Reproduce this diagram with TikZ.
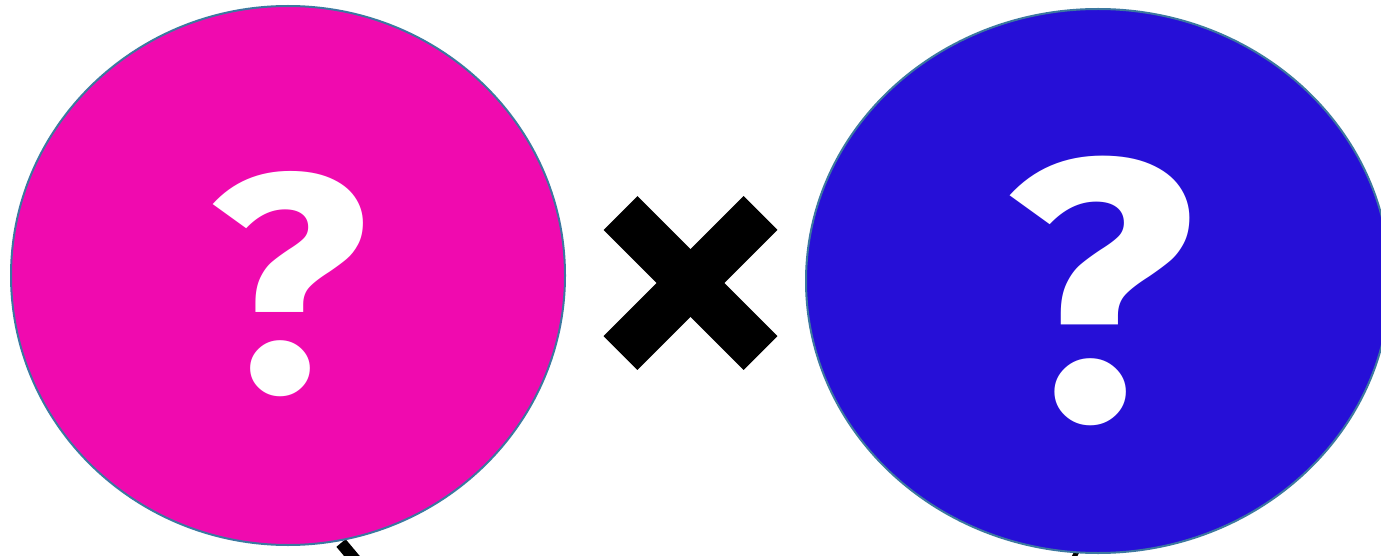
\documentclass[tikz,border=0pt]{standalone}
\usepackage{fontspec}
\setmainfont{Fira Sans}
\usetikzlibrary{shapes.geometric}
\definecolor{pinkfill}{RGB}{240,10,175}
\definecolor{bluefill}{RGB}{38,15,215}
\definecolor{rimcol}{RGB}{60,120,160}
\tikzset{
  blob/.style={ellipse, draw=rimcol, line width=2pt, inner sep=0pt, outer sep=0pt},
  qmark/.style={text=white, anchor=base, inner sep=0pt, xscale=1.07},
  crossarm/.style={fill=black, draw=none, minimum width=198pt, minimum height=48pt, inner sep=0pt, rectangle},
  stub/.style={black, line width=12pt}
}
\begin{document}
\begin{tikzpicture}[x=1pt,y=-1pt]
\useasboundingbox (0,0) rectangle (1381,556);
\clip (0,0) rectangle (1381,556);
\fill[white] (0,0) rectangle (1381,556);
\coordinate (s1a) at (341,543);
\coordinate (s1b) at (362,568);
\draw[stub] (s1a) -- (s1b);
\coordinate (s2a) at (1078,549);
\coordinate (s2b) at (1070,566);
\draw[black, line width=5pt] (s2a) -- (s2b);
\node[blob, fill=pinkfill, minimum width=554pt, minimum height=539pt] (left) at (288,275.5) {};
\node[blob, fill=bluefill, minimum width=584pt, minimum height=544pt] (right) at (1098,281) {};
\node[qmark, font=\bfseries\fontsize{310}{310}\selectfont] (q1) at (288.5,391) {?};
\node[qmark, font=\bfseries\fontsize{371}{371}\selectfont] (q2) at (1099.5,419) {?};
\node[crossarm, rotate=45] (x1) at (690.5,283) {};
\node[crossarm, rotate=-45] (x2) at (690.5,283) {};
\end{tikzpicture}
\end{document}
